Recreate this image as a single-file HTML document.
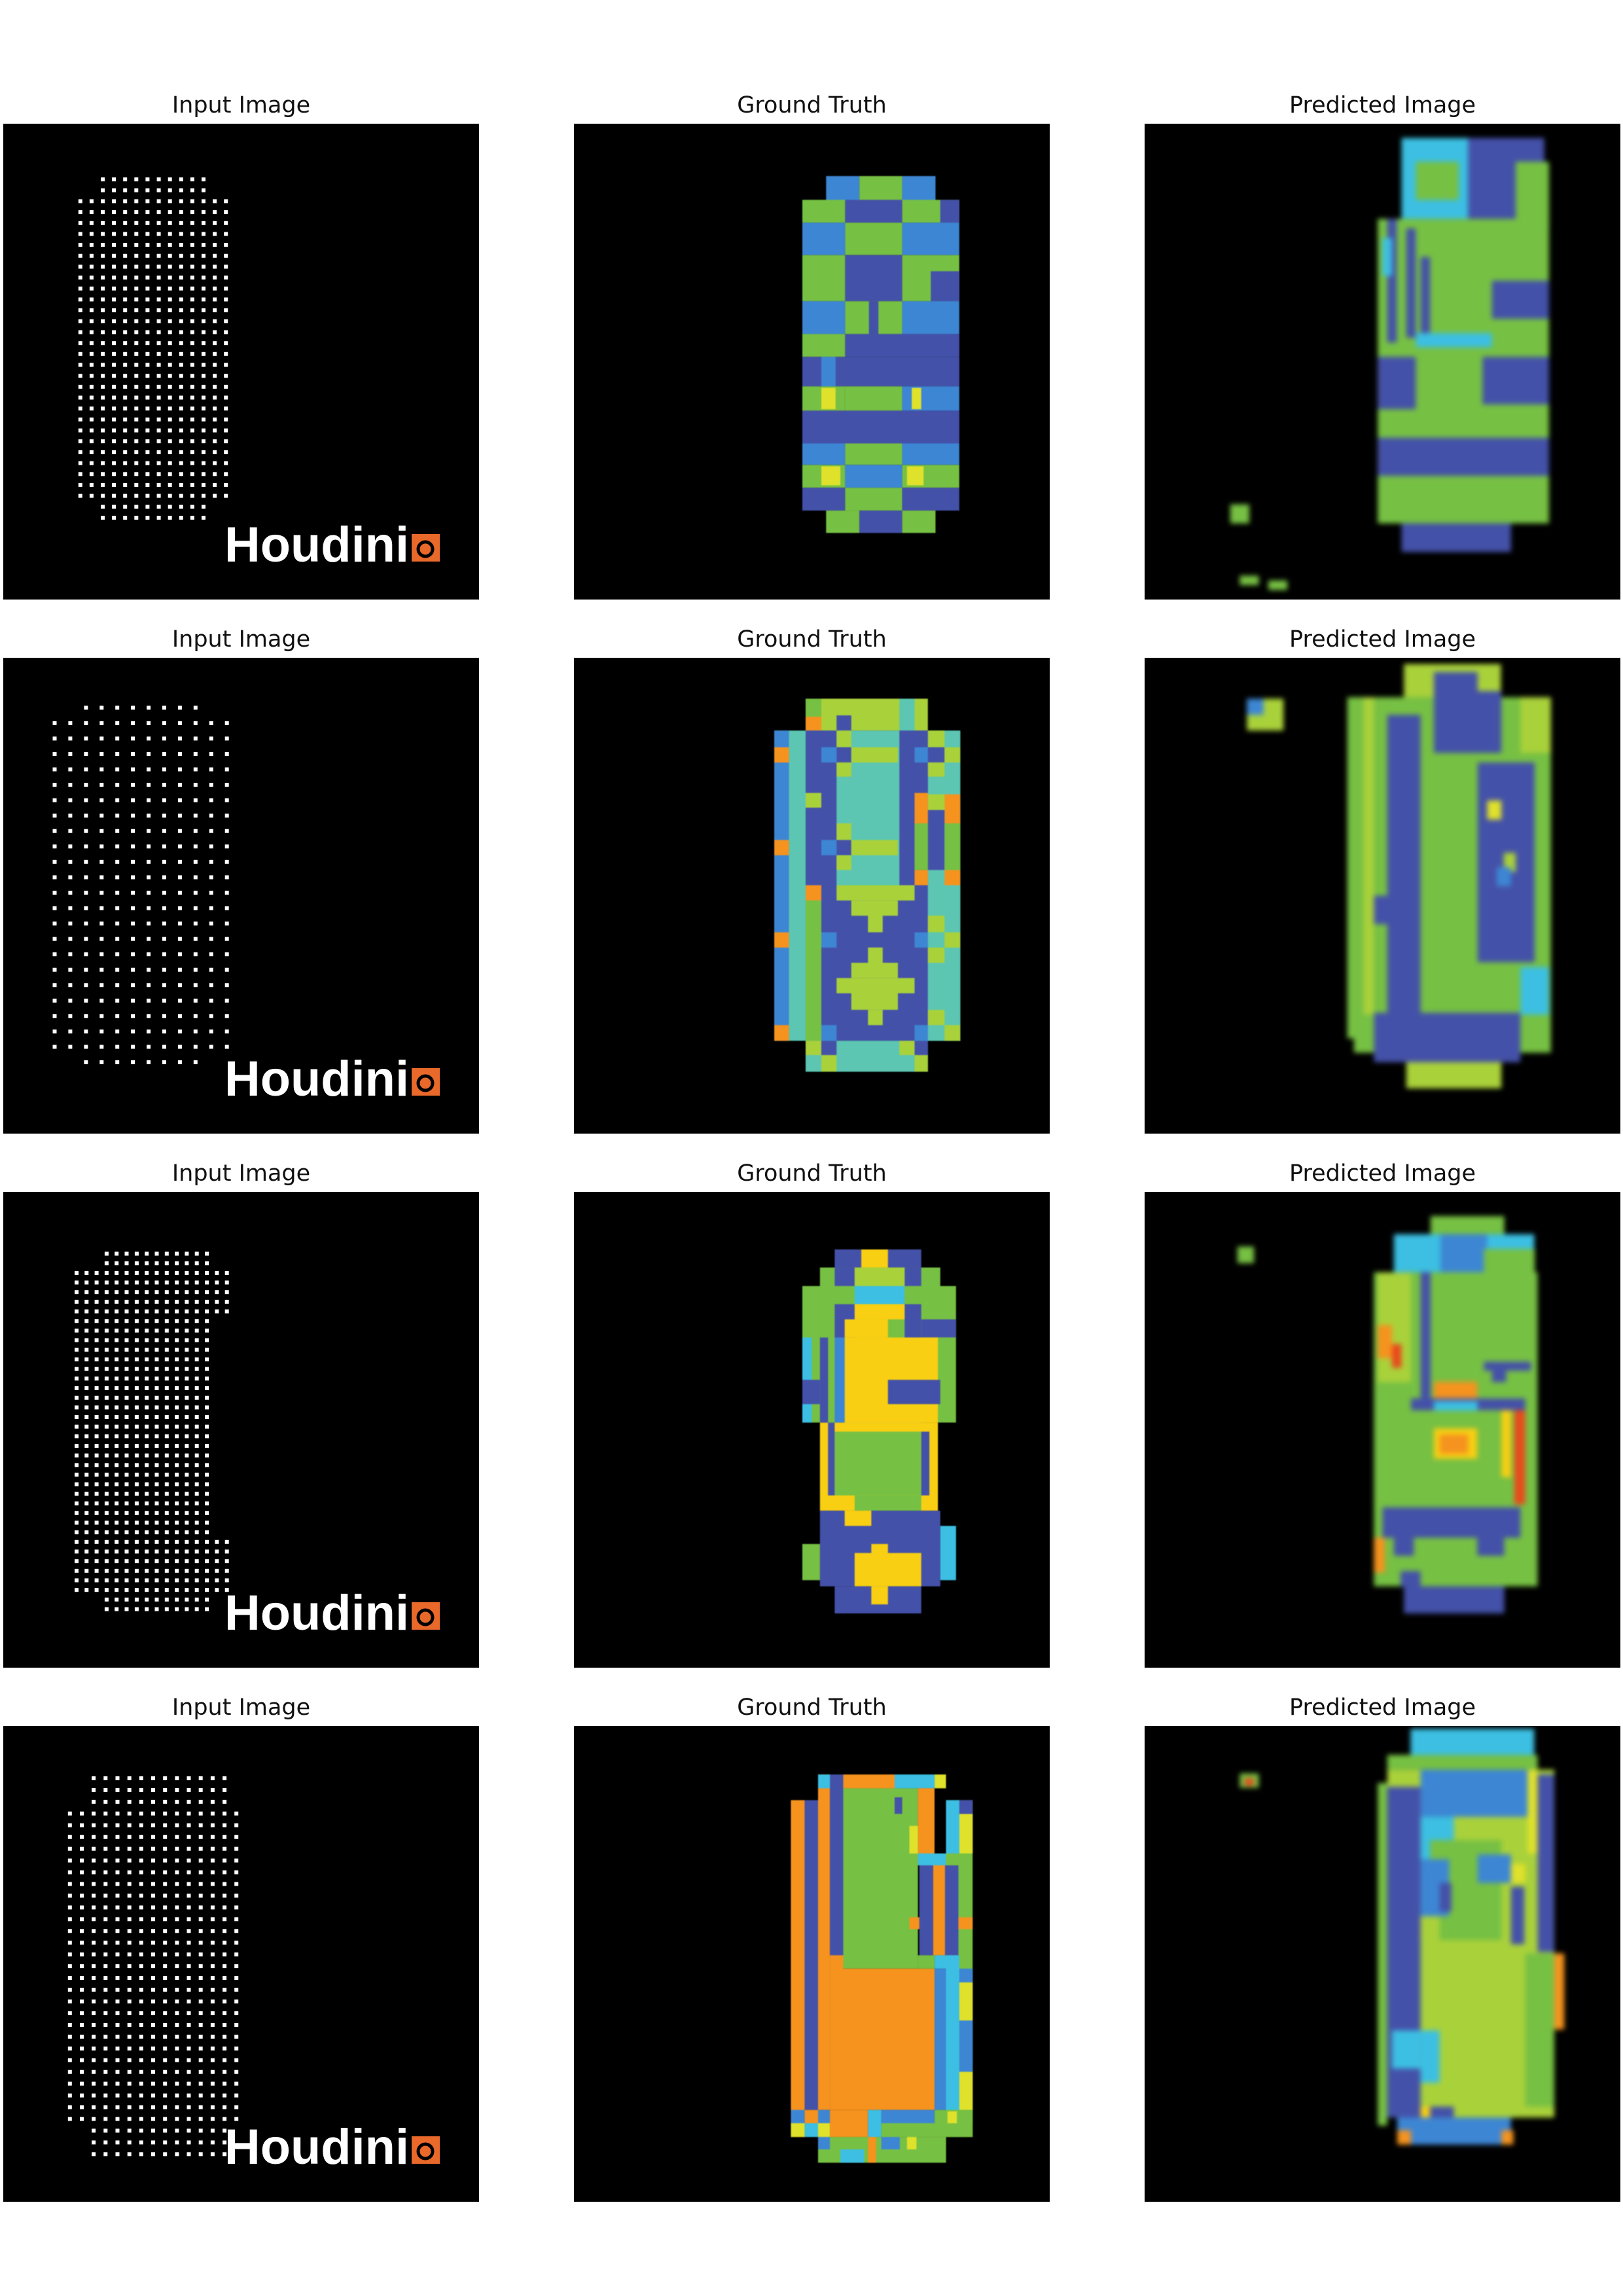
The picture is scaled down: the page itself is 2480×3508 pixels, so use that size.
<!DOCTYPE html>
<html><head><meta charset="utf-8">
<style>
html,body{margin:0;padding:0;background:#fff;}
body{width:2480px;height:3508px;position:relative;overflow:hidden;font-family:"DejaVu Sans","Liberation Sans",sans-serif;}
.title{position:absolute;width:727px;text-align:center;font-size:35px;color:#111;line-height:40px;}
svg.panel{position:absolute;width:727px;height:727px;background:#000;}
</style></head>
<body>
<script>
// ---- layout ----
const colX=[5,877,1749];
const rowY=[189,1005,1821,2637];
const titles=["Input Image","Ground Truth","Predicted Image"];
const C={G:"#76c043",N:"#4451a8",B:"#3d86d4",Y:"#dfe12b",YG:"#a9d13a",T:"#5cc6b2",C:"#3cbfe2",O:"#f5931e",D:"#f8cf12",R:"#e84a1c"};

// ---- input dot grids ----
const dotGrids=[
 {x0:16.2,x1:46.8,y0:11.7,y1:82.8,cols:14,rows:32,rules:[[0,1,2,11],[30,31,2,11]]},
 {x0:10.8,x1:47,y0:10.5,y1:85,cols:12,rows:24,rules:[[0,0,2,9],[23,23,2,9]]},
 {x0:15.4,x1:47,y0:13,y1:87.7,cols:16,rows:38,rules:[[0,1,3,13],[7,29,0,13],[36,37,3,13]]},
 {x0:14,x1:49,y0:11,y1:90,cols:15,rows:33,rules:[[0,2,2,13],[30,32,2,13]]}
];

// ---- ground truth rects [x0,y0,x1,y1,color] in % ----
const gt1=[[53,11,60,16.2,"B"],[60,11,69,16.2,"G"],[69,11,76,16.2,"B"],
[48,16,57,20.8,"G"],[57,16,69,20.8,"N"],[69,16,81,20.8,"G"],[77,16,81,20.8,"N"],
[48,20.8,57,27.6,"B"],[57,20.8,69,27.6,"G"],[69,20.8,81,27.6,"B"],
[48,27.6,57,37.3,"G"],[57,27.6,69,37.3,"N"],[69,27.6,81,37.3,"G"],[75,31,81,37.3,"N"],
[48,37.3,57,44.2,"B"],[57,37.3,69,44.2,"G"],[62,37.3,64,44.2,"N"],[69,37.3,81,44.2,"B"],
[48,44.2,57,49,"G"],[57,44.2,81,49,"N"],
[48,49,81,55.2,"N"],[52,49,55,55.2,"B"],
[48,55.2,57,60.3,"G"],[52,55.5,55,60,"Y"],[57,55.2,69,60.3,"G"],[69,55.2,81,60.3,"B"],[71,55.5,73,60,"Y"],
[48,60.3,81,67.2,"N"],
[48,67.2,57,71.7,"B"],[57,67.2,69,71.7,"G"],[69,67.2,81,71.7,"B"],
[48,71.7,57,76.5,"G"],[52,72,56,76,"Y"],[57,71.7,69,76.5,"B"],[69,71.7,81,76.5,"G"],[70,72,73.5,76,"Y"],
[48,76.5,57,81.3,"N"],[57,76.5,69,81.3,"G"],[69,76.5,81,81.3,"N"],
[53,81.3,60,86,"G"],[60,81.3,69,86,"N"],[69,81.3,76,86,"G"]];
const gt2=[[48.7,8.6,74.4,15.3,"YG"],[48.7,8.6,52,12.4,"G"],[48.7,12.4,52,15.3,"O"],[55.2,12.1,58.3,15.3,"N"],[68.4,8.6,71.6,15.3,"T"],
[42.1,15.3,81.2,80.5,"T"],[42.1,15.3,45.2,80.5,"B"],[48.7,15.3,55.2,47.8,"N"],[68.4,15.3,74.4,47.8,"N"],
[55.2,15.3,58.3,18.8,"YG"],[55.2,18.8,58.3,22,"N"],[52,18.8,55.2,22,"B"],[58.3,18.8,68.1,22,"YG"],[55.2,22,58.3,25,"YG"],
[71.6,18.8,74.4,22,"B"],[74.4,15.3,77.9,18.8,"YG"],[74.4,18.8,77.9,22,"N"],[77.9,18.8,81.2,22,"YG"],[74.4,22,77.9,25,"YG"],
[48.7,28.4,52,31.5,"YG"],
[42.1,18.8,45.2,22,"O"],[42.1,38.3,45.2,41.5,"O"],[42.1,57.7,45.2,60.9,"O"],[42.1,77.2,45.2,80.5,"O"],
[71.6,28.4,74.4,34.8,"O"],[77.9,28.7,81.2,34.8,"O"],[71.6,44.6,74.4,47.8,"O"],[77.9,44.6,81.2,47.8,"O"],
[74.4,28.7,77.9,32,"YG"],[74.4,32,77.9,44.6,"N"],[71.6,34.8,74.4,44.6,"G"],[77.9,34.8,81.2,44.6,"G"],
[55.2,34.8,58.3,38.3,"YG"],[52,38.3,55.2,41.5,"B"],[55.2,38.3,58.3,41.5,"N"],[58.3,38.3,68.1,41.5,"YG"],[55.2,41.5,58.3,44.6,"YG"],
[48.7,47.8,52,51,"O"],[48.7,51,52,80.5,"G"],[52,47.8,74.4,80.5,"N"],
[55.2,47.8,71.6,51,"YG"],[58.3,51,68.1,54.2,"YG"],[61.8,54.2,64.9,57.7,"YG"],[61.8,60.9,64.9,64.1,"YG"],[58.3,64.1,68.1,67.3,"YG"],[55.2,67.3,71.6,70.5,"YG"],[58.3,70.5,68.1,74,"YG"],[61.8,74,64.9,77.2,"YG"],
[52,57.7,55.2,60.9,"B"],[71.6,57.7,74.4,60.9,"B"],[52,77.2,55.2,80.5,"B"],[71.6,77.2,74.4,80.5,"B"],
[74.4,47.8,81.2,80.5,"T"],[74.4,54.2,77.9,57.7,"YG"],[77.9,57.7,81.2,60.9,"YG"],[74.4,60.9,77.9,64.1,"YG"],[74.4,74,77.9,77.2,"YG"],[77.9,77.2,81.2,80.5,"YG"],
[48.7,80.5,74.4,87,"T"],[48.7,80.5,52,83.5,"YG"],[52,80.5,55.2,83.5,"N"],[52,83.5,55.2,87,"YG"],[68.4,80.5,71.6,83.5,"YG"],[71.6,80.5,74.4,83.5,"N"],[71.6,83.5,74.4,87,"YG"]];
const gt3=[[54.8,12.1,73,15.9,"N"],[60.4,12.1,66,15.9,"D"],
[51.7,15.9,77,19.8,"G"],[54.8,15.9,59,19.8,"N"],[69.5,15.9,73,19.8,"N"],[59,15.9,69.5,19.8,"YG"],
[48,19.8,80.3,48.5,"G"],[59,19.8,69.5,23.6,"C"],
[54.8,23.6,59,30.6,"N"],[69.5,23.6,73,30.6,"N"],[59,23.6,69.5,26.8,"D"],[56.9,26.8,66,30.6,"D"],[73,26.8,80.3,30.6,"N"],
[56.9,30.6,76.5,48.5,"D"],[51.7,30.6,53.4,48.5,"N"],[48,30.6,50,48.5,"C"],[54.8,30.6,56.9,48.5,"B"],
[66,39.5,77,44.6,"N"],[48,39.5,51.7,44.6,"N"],[56.9,48.5,73,50.4,"C"],
[51.7,48.5,76.5,67,"D"],[53.4,48.5,54.8,63.8,"N"],[54.8,50.4,73,63.8,"G"],[73,50.4,74.7,63.8,"N"],[59,63.8,73,67,"G"],
[51.7,67,77,82.9,"N"],[56.9,67,62.5,70.2,"D"],[59,75.9,73,82.9,"D"],[62.5,74,66,86.7,"D"],
[48,74,51.7,81.6,"G"],[77,70.2,80.3,81.6,"C"],[54.8,82.9,73,88.6,"N"],[62.5,82.9,66,86.7,"D"]];
const gt4=[[45.6,15.6,48.5,86.4,"O"],[48.5,15.6,51.3,80.7,"N"],[51.3,10.2,53.8,80.7,"O"],[53.8,10.2,56.6,48.2,"N"],[56.6,13.1,72.3,51,"G"],
[56.6,10.2,67.4,13.1,"O"],[67.4,10.2,75.8,13.1,"C"],[75.8,10.2,78.2,13.1,"Y"],[51.3,10.2,53.8,13.1,"C"],
[72.3,13.1,75.8,29.3,"O"],[67.4,15,69,18.5,"N"],[70.5,21,72.3,26.8,"Y"],[72.3,26.8,78.2,29.3,"C"],
[78.2,15.6,83.8,86.4,"G"],[78.2,15.6,81,18.5,"C"],[81,15.6,83.8,18.5,"N"],[81,18.5,83.8,26.8,"Y"],[78.2,18.5,81,26.8,"C"],
[72.6,29.3,75.5,48.2,"N"],[75.5,29.3,78,48.2,"O"],[78,29.3,80.8,48.2,"N"],[80.8,40.2,83.8,42.7,"O"],[70.5,40.2,72.6,42.7,"O"],
[53.8,48.2,56.6,80.7,"O"],[56.6,51,75.8,80.7,"O"],[72.3,48.2,75.8,51,"G"],[75.8,48.2,78.2,51,"C"],
[75.8,51,78.2,80.7,"B"],[78.2,48.2,81,80.7,"C"],[81,51,83.8,53.9,"B"],[81,53.9,83.8,61.9,"Y"],[81,61.9,83.8,72.7,"B"],[81,72.7,83.8,80.7,"Y"],
[45.6,80.7,48.5,83.5,"B"],[48.5,80.7,51.3,83.5,"O"],[51.3,80.7,53.8,83.5,"B"],[45.6,83.5,48.5,86.4,"Y"],[48.5,83.5,51.3,86.4,"C"],[51.3,83.5,53.8,86.4,"Y"],
[53.8,80.7,61.8,86.4,"O"],[61.8,80.7,64.6,86.4,"C"],[64.6,80.7,75.8,83.5,"B"],[64.6,83.5,83.8,86.4,"G"],[75.8,80.7,83.8,83.5,"G"],[78.5,81,80.5,83.5,"Y"],
[51.3,86.4,78.2,91.8,"G"],[51.3,86.4,53.8,89,"B"],[56,89,61,91.8,"C"],[61.8,86.4,63.5,91.8,"O"],[64.6,86.4,68.5,89,"B"],[70,86.4,72,89,"Y"]];

// ---- predicted rects ----
const pr1=[[54,3,68,20,"C"],[68,3,84,20,"N"],[57,8,66,16,"G"],[78,8,85,22,"G"],
[49,20,85,84,"G"],[51,20,53,46,"N"],[55,22,57,45,"N"],[58,28,60,46,"N"],[73,33,85,41,"N"],[57,44,73,47,"C"],
[49,49,57,60,"N"],[71,49,85,59,"N"],[49,66,85,74,"N"],[54,84,77,90,"N"],[50,24,52,32,"C"],
[20,95,24,97,"G"],[26,96,30,98,"G"],[18,80,22,84,"G"]];
const pr2=[[44,8.3,85.4,83,"G"],[42.6,8.3,46,80,"G"],[46,8.3,48.2,75,"YG"],[54.5,1.3,74.9,8.3,"YG"],[60.8,3,70,20,"N"],[66,7,75,20,"N"],
[70,22,82,64,"N"],[51,12,58,83,"N"],[48.2,50,54.5,56,"N"],[72,30,75,34,"Y"],[75.5,41,78,45,"YG"],[74,44,77,48,"B"],
[48.2,74.6,79,85,"N"],[55,85,75,90.5,"YG"],[79,65,85,75,"C"],[79,8.3,85.4,20,"YG"],[21.5,8.6,29.2,15.3,"YG"],[21.5,8.6,25,12,"B"]];
const pr3=[[60.1,5.1,75.6,8.9,"G"],[52.4,8.9,81.9,16.9,"C"],[62.2,8.9,72,16.9,"B"],[71.3,12,82,18,"G"],
[48.2,16.9,82.6,82.9,"G"],[49,17,56,40,"YG"],[49,28,52,35,"O"],[52,32,54,37,"R"],[58,16.9,60.1,45.9,"N"],
[60.8,39.9,69.9,43.4,"O"],[60.8,49.7,69.9,56.1,"D"],[62,51,68,55,"O"],[71.3,35.7,81.2,37.6,"N"],[73,37,76,40,"N"],
[77.7,45,80,65.7,"R"],[75,45,77,60,"D"],[56,43.4,80,45.9,"N"],[60.8,44,70,46,"C"],
[50,66.3,79,72.7,"N"],[52.4,72.7,56.6,76.5,"N"],[69.9,72.7,75.6,76.5,"N"],[48.2,72.7,50.5,80,"O"],
[53.8,79.7,58,83,"N"],[54.5,82.9,75.6,88.6,"N"],[19.5,11.5,23,15,"G"]];
const pr4=[[55.9,0.6,81.9,6.1,"C"],[51,6.1,82.6,9.2,"G"],[51,9.2,86.1,82.3,"YG"],[58,9.2,80.5,19.1,"B"],[51,12.8,58,82.3,"N"],[49,12,51,84,"G"],
[82.6,10.2,86.1,47.5,"N"],[80.5,9.2,82.6,26.8,"Y"],[77,33.8,79.8,45.9,"N"],[58,19.1,65,28,"C"],[60,24,75,45,"G"],[58,28,64,40,"B"],
[62,33,64.5,39,"N"],[70,27,77,33,"B"],[77,29,80,33,"Y"],[58,40,62,45,"YG"],[86.1,47.8,88.2,63.8,"O"],[80,47.8,86.1,80,"G"],
[52,64,58,72,"C"],[58,64,62,75,"C"],[55,80,65,82.3,"N"],[58,80,60,82.3,"D"],[53.1,82.3,77,88,"B"],[53.1,85,56,88,"O"],[75,85,77.5,88,"O"],
[20,10,24,13,"G"],[21,11,23,12.5,"R"]];

const gts=[gt1,gt2,gt3,gt4];
const preds=[pr1,pr2,pr3,pr4];
const NS="http://www.w3.org/2000/svg";
const S=7.27;

function mkSvg(name,x,y){
  const s=document.createElementNS(NS,"svg");
  s.setAttribute("class","panel");
  s.setAttribute("viewBox","0 0 727 727");
  s.style.left=x+"px";s.style.top=y+"px";
  
  
  document.body.appendChild(s);
  return s;
}
function drawRects(svg,list,blur){
  const g=document.createElementNS(NS,"g");
  if(blur) g.setAttribute("style","filter:blur("+blur+"px)");
  
  
  list.forEach(r=>{
    const e=document.createElementNS(NS,"rect");
    e.setAttribute("x",(r[0]*S).toFixed(1));e.setAttribute("y",(r[1]*S).toFixed(1));
    e.setAttribute("width",((r[2]-r[0])*S).toFixed(1));e.setAttribute("height",((r[3]-r[1])*S).toFixed(1));
    e.setAttribute("fill",C[r[4]]);
    
    
    g.appendChild(e);
  });
  svg.appendChild(g);
}
function drawDots(svg,d){
  const g=document.createElementNS(NS,"g");
  
  
  const dx=(d.x1-d.x0)/(d.cols-1),dy=(d.y1-d.y0)/(d.rows-1);
  for(let r=0;r<d.rows;r++){
    let a=0,b=d.cols-1;
    d.rules.forEach(q=>{if(r>=q[0]&&r<=q[1]){a=q[2];b=q[3];}});
    for(let c=a;c<=b;c++){
      const e=document.createElementNS(NS,"rect");
      e.setAttribute("x",((d.x0+c*dx)*S-3).toFixed(1));
      e.setAttribute("y",((d.y0+r*dy)*S-3).toFixed(1));
      e.setAttribute("width",6);e.setAttribute("height",6);
      e.setAttribute("fill","#fff");
      
      
      g.appendChild(e);
    }
  }
  svg.appendChild(g);
}
function drawLogo(svg){
  const t=document.createElementNS(NS,"text");
  t.setAttribute("x",338);t.setAttribute("y",669);
  t.setAttribute("font-family","Liberation Sans, sans-serif");
  t.setAttribute("font-weight","bold");t.setAttribute("font-size","76");
  t.setAttribute("textLength","282");t.setAttribute("lengthAdjust","spacingAndGlyphs");
  t.setAttribute("fill","#fff");
  t.textContent="Houdini";
  
  
  svg.appendChild(t);
  const sq=document.createElementNS(NS,"rect");
  sq.setAttribute("x",624);sq.setAttribute("y",627);sq.setAttribute("width",43);sq.setAttribute("height",42);
  sq.setAttribute("fill","#e8692a");
  
  
  svg.appendChild(sq);
  const sp=document.createElementNS(NS,"circle");
  sp.setAttribute("cx",645);sp.setAttribute("cy",650);sp.setAttribute("r",11);
  sp.setAttribute("fill","none");sp.setAttribute("stroke","#000");sp.setAttribute("stroke-width","5");
  
  
  svg.appendChild(sp);
}

for(let r=0;r<4;r++){
  for(let c=0;c<3;c++){
    const t=document.createElement("div");
    t.className="title";
    t.style.left=colX[c]+"px";t.style.top=(rowY[r]-48)+"px";
    t.textContent=titles[c];
    
    
    document.body.appendChild(t);
  }
  const a=mkSvg("input-image-"+(r+1),colX[0],rowY[r]);
  drawDots(a,dotGrids[r]);drawLogo(a);
  const b=mkSvg("ground-truth-"+(r+1),colX[1],rowY[r]);
  drawRects(b,gts[r],0.8);
  const p=mkSvg("predicted-image-"+(r+1),colX[2],rowY[r]);
  drawRects(p,preds[r],4);
}
</script>
</body></html>
